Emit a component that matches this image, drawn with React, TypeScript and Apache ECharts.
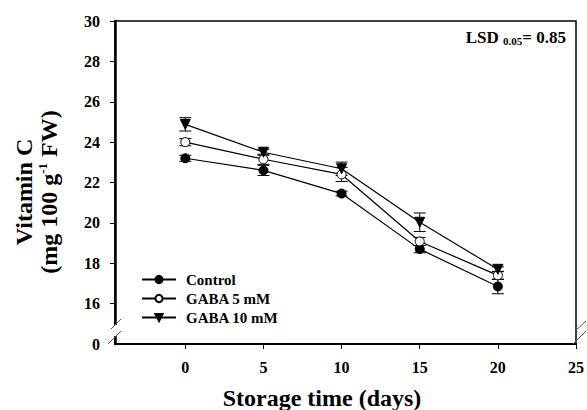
import React, { useEffect, useRef } from "react";
import * as echarts from "echarts";

// ---- data ----
const days = [0, 5, 10, 15, 20];
const controlVals = [23.2, 22.6, 21.45, 18.7, 16.85];
const controlErr = [0.15, 0.25, 0.12, 0.18, 0.36];
const gaba5Vals = [24.0, 23.15, 22.4, 19.08, 17.4];
const gaba5Err = [0.18, 0.25, 0.35, 0.2, 0.2];
const gaba10Vals = [24.88, 23.5, 22.68, 20.03, 17.7];
const gaba10Err = [0.33, 0.15, 0.33, 0.46, 0.12];
const seriesNames = ["Control", "GABA 5 mM", "GABA 10 mM"];
const xTickValues = [0, 5, 10, 15, 20, 25];
const yLabelValues = [14, 16, 18, 20, 22, 24, 26, 28, 30];
const yLabelTexts = ["0", "16", "18", "20", "22", "24", "26", "28", "30"];
const yTickValues = [16, 18, 20, 22, 24, 26, 28, 30];

const FONT = "'Liberation Serif', 'Times New Roman', serif";
const TRI_DOWN = "path://M0,0 L10,0 L5,9 Z";

function errSeries(vals: number[], errs: number[]) {
  return {
    type: "custom",
    z: 1,
    silent: true,
    encode: { x: 0, y: 1 },
    data: days.map((d, i) => [d, vals[i], errs[i]]),
    renderItem: (params: any, api: any) => {
      const x = api.value(0);
      const y = api.value(1);
      const e = api.value(2);
      const top = api.coord([x, y + e]);
      const bot = api.coord([x, y - e]);
      const hw = 6;
      const st = { stroke: "#000", lineWidth: 1 };
      return {
        type: "group",
        children: [
          { type: "line", shape: { x1: top[0], y1: top[1], x2: bot[0], y2: bot[1] }, style: st },
          { type: "line", shape: { x1: top[0] - hw, y1: top[1], x2: top[0] + hw, y2: top[1] }, style: st },
          { type: "line", shape: { x1: bot[0] - hw, y1: bot[1], x2: bot[0] + hw, y2: bot[1] }, style: st },
        ],
      };
    },
  };
}

function lineSeries(name: string, vals: number[], symbol: string, fill: string, size: number) {
  return {
    name,
    type: "line",
    z: 3,
    data: days.map((d, i) => [d, vals[i]]),
    symbol,
    symbolSize: size,
    showSymbol: true,
    lineStyle: { color: "#000", width: 1.2 },
    itemStyle: { color: fill, borderColor: "#000", borderWidth: 1 },
  };
}

export default function App() {
  const ref = useRef<HTMLDivElement>(null);
  useEffect(() => {
    if (!ref.current) return;
    const chart = echarts.init(ref.current, undefined, { renderer: "svg" });
    const gridLeft = 115;
    const gridTop = 21;
    const gridRight = 581;
    const gridBottom = 344;
    const white = { fill: "#fff" };
    const slash = { stroke: "#555", lineWidth: 1 };
    chart.setOption({
      animation: false,
      backgroundColor: "#fff",
      grid: {
        left: gridLeft,
        top: gridTop,
        right: 587 - gridRight,
        bottom: 410 - gridBottom,
        show: true,
        borderColor: "#000",
        borderWidth: 1.5,
        backgroundColor: "transparent",
      },
      legend: {
        data: seriesNames,
        orient: "vertical",
        left: 136,
        top: 267,
        itemWidth: 34,
        itemHeight: 9,
        itemGap: 4,
        textStyle: {
          fontFamily: FONT,
          fontWeight: "bold",
          fontSize: 15,
          color: "#000",
          lineHeight: 15,
          padding: [0, 0, 0, 5],
        },
      },
      xAxis: {
        type: "value",
        min: -4.5,
        max: 25,
        splitLine: { show: false },
        axisLine: { show: true, onZero: false, lineStyle: { color: "#000", width: 2 } },
        axisTick: { show: true, length: 5, customValues: xTickValues, lineStyle: { color: "#000", width: 1 } },
        axisLabel: {
          customValues: xTickValues,
          margin: 15,
          fontFamily: FONT,
          fontWeight: "bold",
          fontSize: 16,
          color: "#000",
        },
      },
      yAxis: {
        type: "value",
        min: 14,
        max: 30,
        splitLine: { show: false },
        axisLine: { show: true, onZero: false, lineStyle: { color: "#000", width: 2.5 } },
        axisTick: { show: true, length: 5, customValues: yTickValues, lineStyle: { color: "#000", width: 1 } },
        axisLabel: {
          customValues: yLabelValues,
          margin: 15,
          fontFamily: FONT,
          fontWeight: "bold",
          fontSize: 16,
          color: "#000",
          formatter: (v: number) => {
            const i = yLabelValues.indexOf(v);
            return i >= 0 ? yLabelTexts[i] : String(v);
          },
        },
      },
      series: [
        errSeries(controlVals, controlErr),
        errSeries(gaba5Vals, gaba5Err),
        errSeries(gaba10Vals, gaba10Err),
        lineSeries(seriesNames[0], controlVals, "circle", "#000", 9),
        lineSeries(seriesNames[1], gaba5Vals, "circle", "#fff", 9),
        lineSeries(seriesNames[2], gaba10Vals, TRI_DOWN, "#000", 10),
      ],
      graphic: [
        // axis breaks
        { type: "rect", z: 100, shape: { x: 110, y: 325, width: 10, height: 11 }, style: white },
        { type: "line", z: 101, shape: { x1: 111, y1: 329, x2: 121, y2: 319 }, style: slash },
        { type: "line", z: 101, shape: { x1: 108, y1: 344, x2: 121, y2: 331 }, style: slash },
        { type: "rect", z: 100, shape: { x: 577, y: 325, width: 8, height: 11 }, style: white },
        { type: "line", z: 101, shape: { x1: 575, y1: 331, x2: 586, y2: 321 }, style: slash },
        { type: "line", z: 101, shape: { x1: 573, y1: 344, x2: 586, y2: 331 }, style: slash },
        // y title
        {
          type: "text",
          z: 100,
          x: 36,
          y: 192,
          rotation: Math.PI / 2,
          style: {
            text: "{t|Vitamin C}\n{t|(mg 100 g}{sup|-1}{t| FW)}",
            align: "center",
            verticalAlign: "middle",
            textAlign: "center",
            textVerticalAlign: "middle",
            fill: "#000",
            rich: {
              t: { fontFamily: FONT, fontWeight: "bold", fontSize: 24, lineHeight: 25, fill: "#000" },
              sup: { fontFamily: FONT, fontWeight: "bold", fontSize: 13, lineHeight: 12, verticalAlign: "top", fill: "#000" },
            },
          },
        },
        // x title
        {
          type: "text",
          z: 100,
          x: 322,
          y: 398,
          style: {
            text: "Storage time (days)",
            fontFamily: FONT,
            fontWeight: "bold",
            fontSize: 24,
            fill: "#000",
            align: "center",
            verticalAlign: "middle",
            textAlign: "center",
            textVerticalAlign: "middle",
          },
        },
        // LSD
        {
          type: "text",
          z: 100,
          x: 566,
          y: 37,
          style: {
            text: "{a|LSD }{s|0.05}{a|= 0.85}",
            align: "right",
            verticalAlign: "middle",
            textAlign: "right",
            textVerticalAlign: "middle",
            fill: "#000",
            rich: {
              a: { fontFamily: FONT, fontWeight: "bold", fontSize: 17, lineHeight: 19, fill: "#000" },
              s: { fontFamily: FONT, fontWeight: "bold", fontSize: 11, lineHeight: 11, verticalAlign: "bottom", fill: "#000" },
            },
          },
        },
      ],
    });
    return () => chart.dispose();
  }, []);
  return (
    <div
      ref={ref}
      style={{ position: "fixed", left: 0, top: 0, width: 587, height: 410, background: "#fff" }}
    />
  );
}
